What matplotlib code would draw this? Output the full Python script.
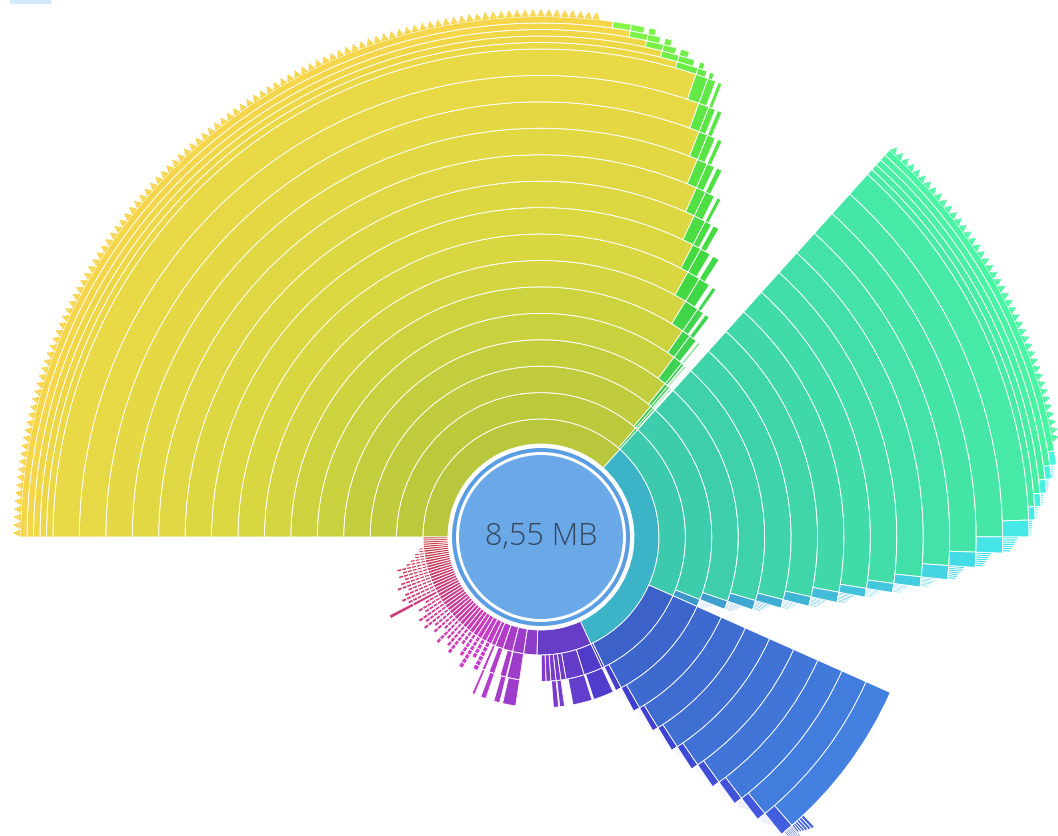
import colorsys
import numpy as np
import matplotlib
matplotlib.use("Agg")
import matplotlib.pyplot as plt
from matplotlib.patches import Rectangle

total_kb = 8755  # 8,55 MB
center_label = "8,55 MB"

# biggest branch: a long chain of nested folders (KB per depth, depth 1..20)
yellow_chain_kb = [3210, 3186, 3162, 3137, 3076, 3028, 2955, 2894, 2857, 2809,
                   2772, 2736, 2707, 2675, 2639, 2578, 2529, 2481, 2432, 2383]
yellow_deep_kb = 2347
yellow_deep_files = 111

# second branch (depth 1) and its main chain (depth 2..20)
teal_kb = 2748
teal_chain_kb = [1751, 1690, 1629, 1569, 1520, 1471, 1423, 1386, 1350, 1313,
                 1265, 1216, 1167, 1119, 1082, 1046, 1009, 973, 936]
teal_deep_kb = 912
teal_deep_files = 43

# sub chain inside the teal branch (depth 2..11)
blue_chain_kb = [973, 924, 876, 839, 803, 766, 730, 693, 657, 608]
blue_tail_kb = [12, 11, 10, 9, 8, 7]

# third branch and its sub folders (each list = nested chain from depth 2)
purple_kb = 657
purple_sub_kb = [[185, 170], [180, 160], [50], [48, 40], [50, 44], [47], [45]]

# smaller top level folders (each list = nested chain from depth 1)
magenta_chains = [[158], [134, 125, 110], [117, 60, 50], [97, 55, 45], [53, 30, 25]]

# many tiny top level folders, with how many thin levels they go deeper
small_dirs_kb = [70, 64, 60, 56, 54, 52, 49, 48, 47, 46, 45, 44, 43, 42, 42, 41, 40, 40, 39, 38,
                 38, 37, 36, 36, 35, 34, 34, 33, 33, 32, 31, 30, 30, 29, 28, 27, 26, 25, 24, 23]
small_dirs_depth = [6, 4, 7, 5, 3, 6, 5, 4, 6, 3, 5, 4, 6, 5, 6, 4, 5, 3, 0, 6,
                    7, 6, 5, 7, 6, 5, 6, 5, 6, 4, 3, 2, 2, 1, 1, 0, 0, 0, 0, 0]
long_dir = 18  # this one goes two full levels deeper

DEG = 360.0 / total_kb


def ring(d):
    if d == 1:
        return 93.0, 118.0
    if d <= 15:
        return 118 + 26.43 * (d - 2), 118 + 26.43 * (d - 1)
    return 488 + 6.5 * (d - 16), 488 + 6.5 * (d - 15)


def shade(a, b, d):
    h = (((a + b) / 2.0) % 360) / 360.0
    v = min(0.78 + 0.0095 * (d - 1), 0.97)
    return colorsys.hsv_to_rgb(h, 0.70, v)


bars = {"t": [], "w": [], "b": [], "h": [], "c": []}
teeth = {"t": [], "w": [], "b": [], "h": [], "c": []}


def add(a, b, r0, r1, c, store=bars):
    store["t"].append((a + b) / 2.0)
    store["w"].append(b - a)
    store["b"].append(r0)
    store["h"].append(r1 - r0)
    store["c"].append(c)


def seg(a, b, d):
    add(a, b, *ring(d), shade(a, b, d))


fringe_heights = [0.6, 0.55, 0.5, 0.45, 0.4, 0.35, 0.3]


def fringe(a, b, d):
    if d > 20:
        return
    r0, r1 = ring(d)
    n = len(fringe_heights)
    w = (b - a) * 0.92 / n
    for i, fh in enumerate(fringe_heights):
        add(a + i * w, a + (i + 1) * w, r0, r0 + (r1 - r0) * fh, shade(a, b, d))


def saw(a, b, n):
    w = (b - a) / n
    for i in range(n):
        mid = a + (i + 0.5) * w
        c = shade(a, b, 21)
        for k, frac in enumerate([0.85, 0.55, 0.25]):
            r0 = 520.5 + 2.2 * k
            add(mid - w * frac / 2, mid + w * frac / 2, r0, r0 + 2.2, c, teeth)


# yellow chain with green siblings
prev = None
for d, kb in enumerate(yellow_chain_kb, start=1):
    span = kb * DEG
    seg(0, span, d)
    if prev is not None:
        seg(span, prev, d)
        g = prev - span
        for k, frac in enumerate([0.75, 0.4], start=1):
            if d + k <= 20:
                seg(span, span + g * frac, d + k)
    prev = span
saw(0, yellow_deep_kb * DEG, yellow_deep_files)

# teal branch
t0 = yellow_chain_kb[0] * DEG
seg(t0, t0 + teal_kb * DEG, 1)
prev = None
for d, kb in enumerate(teal_chain_kb, start=2):
    span = kb * DEG
    seg(t0, t0 + span, d)
    if prev is not None:
        seg(t0 + span, t0 + prev, d)
        fringe(t0 + span, t0 + prev, d + 1)
    prev = span
saw(t0, t0 + teal_deep_kb * DEG, teal_deep_files)

# blue chain inside teal branch
b0 = t0 + teal_chain_kb[0] * DEG
prev = None
for d, kb in enumerate(blue_chain_kb, start=2):
    span = kb * DEG
    seg(b0, b0 + span, d)
    if prev is not None:
        seg(b0 + span, b0 + prev, d)
        fringe(b0 + span, b0 + span + (prev - span) * 0.8, d + 1)
    prev = span
seg(b0 + blue_chain_kb[0] * DEG, t0 + teal_kb * DEG, 2)
tail = sum(blue_tail_kb) * DEG
a = b0 + prev - tail
r0, r1 = ring(12)
for i, kb in enumerate(blue_tail_kb):
    add(a, a + kb * DEG, r0, r0 + (r1 - r0) * fringe_heights[i], shade(a, a + kb * DEG, 12))
    a += kb * DEG

# purple branch
p0 = t0 + teal_kb * DEG
seg(p0, p0 + purple_kb * DEG, 1)
a = p0
for chain in purple_sub_kb:
    for k, kb in enumerate(chain):
        seg(a, a + kb * DEG, 2 + k)
    a += chain[0] * DEG

# magenta folders
a = p0 + purple_kb * DEG
for chain in magenta_chains:
    for k, kb in enumerate(chain):
        seg(a, a + kb * DEG, 1 + k)
    a += chain[0] * DEG

# tiny folders
for i, (kb, n) in enumerate(zip(small_dirs_kb, small_dirs_depth)):
    span = kb * DEG
    seg(a, a + span, 1)
    c = shade(a, a + span, 3)
    if i == long_dir:
        for d in (2, 3):
            add(a + span * 0.1, a + span * 0.9, *ring(d), c)
    for k in range(n):
        add(a + span * 0.15, a + span * 0.85, 118 + 5 * k, 118 + 5 * (k + 1), c)
    a += span

fig = plt.figure(figsize=(10.58, 8.36), dpi=100)
cx, cy, R = 541, 537, 540
ax = fig.add_axes([(cx - R) / 1058, (836 - cy - R) / 836, 2 * R / 1058, 2 * R / 836],
                  projection="polar")
ax.set_theta_zero_location("W")
ax.set_theta_direction(-1)
ax.set_ylim(0, R)
ax.axis("off")

ax.bar(np.radians(bars["t"]), bars["h"], width=np.radians(bars["w"]), bottom=bars["b"],
       color=bars["c"], edgecolor="white", linewidth=0.6, align="center")
ax.bar(np.radians(teeth["t"]), teeth["h"], width=np.radians(teeth["w"]), bottom=teeth["b"],
       color=teeth["c"], edgecolor="none", align="center")

# centre disk
ax.bar(0, 82, width=2 * np.pi, bottom=0, color="#6aa8e8", edgecolor="none")
ax.bar(0, 4, width=2 * np.pi, bottom=85, color="#5a9de2", edgecolor="none")
ax.text(0, 0, center_label, ha="center", va="center", fontsize=22,
        color="#34475e", family=["Open Sans", "DejaVu Sans"], fontweight="light")

fig.patches.append(Rectangle((10 / 1058, 1 - 3 / 836), 40 / 1058, 3 / 836,
                             transform=fig.transFigure, color="#d3eaf9"))

fig.savefig("out.png", dpi=100)
